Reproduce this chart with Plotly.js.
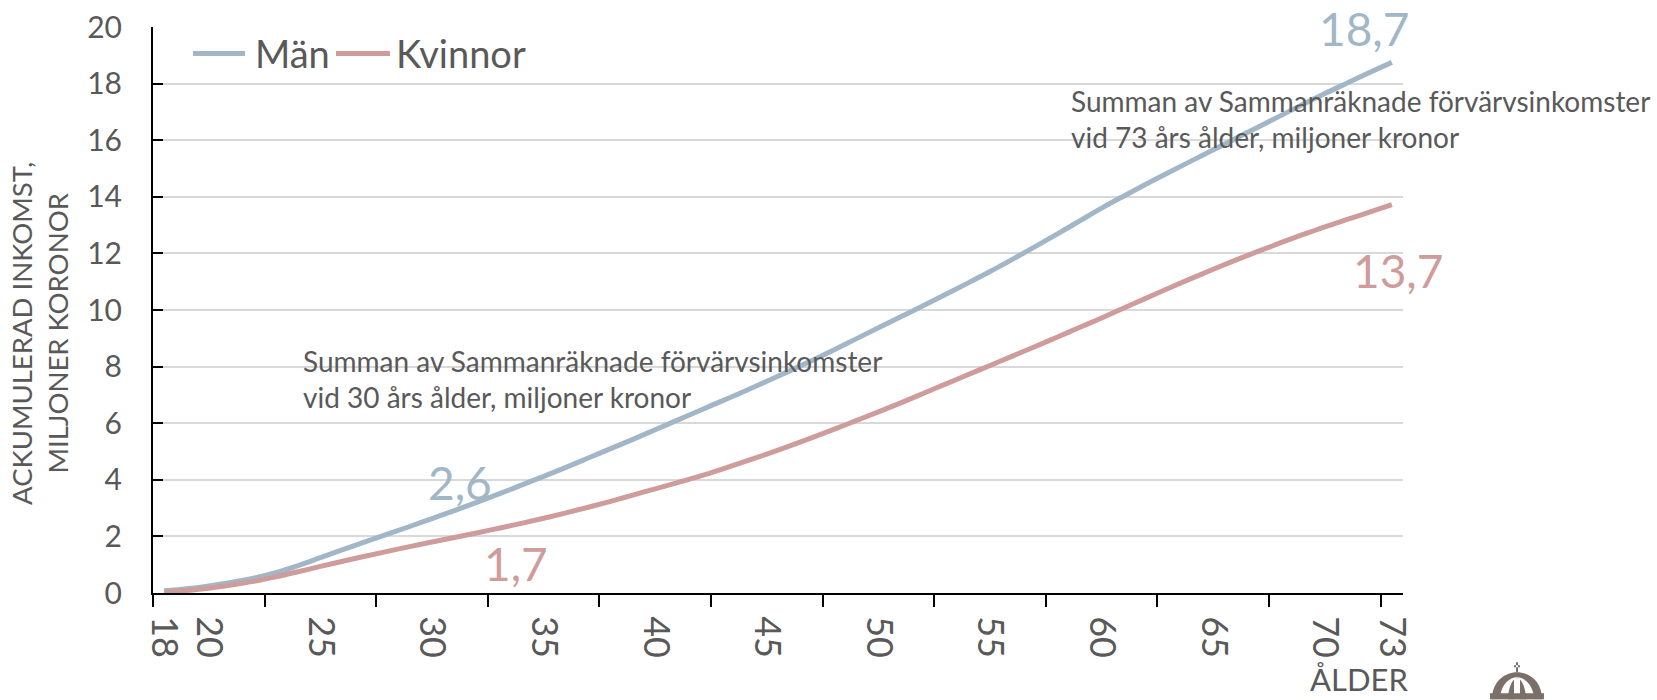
<!DOCTYPE html>
<html>
<head>
<meta charset="utf-8">
<script src="https://cdn.plot.ly/plotly-3.0.1.min.js"></script>
<style>html,body{margin:0;padding:0;background:#fff;}#chart{width:1657px;height:700px;}</style>
</head>
<body>
<div id="chart"></div>
<script>
// ---- data ----
const ages = [18,19,20,21,22,23,24,25,26,27,28,29,30,31,32,33,34,35,36,37,38,39,40,41,42,43,44,45,
  46,47,48,49,50,51,52,53,54,55,56,57,58,59,60,61,62,63,64,65,66,67,68,69,70,71,72,73];
const men = [0.08,0.15,0.25,0.37,0.52,0.72,0.97,1.25,1.53,1.81,2.08,2.35,2.63,2.91,3.2,3.5,3.81,4.12,4.44,4.77,
  5.1,5.43,5.77,6.11,6.45,6.79,7.13,7.48,7.84,8.21,8.59,8.98,9.37,9.76,10.15,10.55,10.95,11.36,11.79,12.23,
  12.68,13.14,13.6,14.03,14.45,14.86,15.26,15.66,16.06,16.46,16.86,17.26,17.65,18.02,18.39,18.75];
const women = [0.03,0.09,0.17,0.28,0.41,0.57,0.75,0.94,1.12,1.3,1.47,1.64,1.8,1.96,2.12,2.29,2.46,2.64,2.83,3.03,
  3.24,3.46,3.68,3.9,4.13,4.38,4.64,4.91,5.19,5.48,5.78,6.09,6.4,6.72,7.05,7.38,7.71,8.04,8.37,8.7,
  9.04,9.38,9.72,10.07,10.42,10.77,11.11,11.44,11.76,12.07,12.37,12.66,12.94,13.2,13.46,13.72];
const seriesNames = ["Män", "Kvinnor"];
const xTickVals = [18,20,25,30,35,40,45,50,55,60,65,70,73];
const xTickText = ["18","20","25","30","35","40","45","50","55","60","65","70","73"];
const xTickMarks = [17.5,22.5,27.5,32.5,37.5,42.5,47.5,52.5,57.5,62.5,67.5,72.5];
const yTickVals = [0,2,4,6,8,10,12,14,16,18,20];
const valueLabels = {men30: "2,6", women30: "1,7", men73: "18,7", women73: "13,7"};
const noteText30 = "Summan av Sammanräknade förvärvsinkomster<br>vid 30 års ålder, miljoner kronor";
const noteText73 = "Summan av Sammanräknade förvärvsinkomster<br>vid 73 års ålder, miljoner kronor";
const yTitle = "ACKUMULERAD INKOMST,<br>MILJONER KORONOR";
const xTitle = "ÅLDER";

// ---- style ----
const BLUE = "#a1b7c7", PINK = "#cf9c9c", GREY = "#595959";
const FONT = "Lato, 'Open Sans', sans-serif";
const L = 153, R = 1403, T = 26.5, B = 593.5, W = 1657, H = 700;
const px = x => (x - L) / (R - L);          // pixel -> paper x
const py = y => (B - y) / (B - T);          // pixel -> paper y

const traces = [
  {x: ages, y: men, name: seriesNames[0], type: "scatter", mode: "lines", showlegend: false,
   line: {color: BLUE, width: 5, shape: "spline", smoothing: 1}},
  {x: ages, y: women, name: seriesNames[1], type: "scatter", mode: "lines", showlegend: false,
   line: {color: PINK, width: 5, shape: "spline", smoothing: 1}}
];

const shapes = [];
// legend samples
shapes.push({type:"line", xref:"paper", yref:"paper", x0:px(193), x1:px(245), y0:py(53), y1:py(53), line:{color:BLUE, width:5}});
shapes.push({type:"line", xref:"paper", yref:"paper", x0:px(336), x1:px(390), y0:py(53), y1:py(53), line:{color:PINK, width:5}});

// simple emblem drawn with shapes (bottom right)
const ec = "#7b7068";
function P(d){ return d.replace(/(-?\d+\.?\d*),(-?\d+\.?\d*)/g, (m,a,b)=> px(+a).toFixed(5)+","+py(+b).toFixed(5)); }
shapes.push({type:"path", xref:"paper", yref:"paper", path:P("M1492,700 C1492,682 1505,673 1517,673 C1529,673 1542,682 1542,700 Z"), fillcolor:ec, line:{width:0}});
shapes.push({type:"path", xref:"paper", yref:"paper", path:P("M1500,700 C1500,688 1508,678 1517,678 C1526,678 1534,688 1534,700 Z"), fillcolor:"#ffffff", line:{width:0}});
shapes.push({type:"path", xref:"paper", yref:"paper", path:P("M1508,700 C1508,690 1512,679 1517,679 C1522,679 1526,690 1526,700 Z"), fillcolor:ec, line:{width:0}});
shapes.push({type:"path", xref:"paper", yref:"paper", path:P("M1514,700 L1514,679 L1520,679 L1520,700 Z"), fillcolor:"#ffffff", line:{width:0}});
shapes.push({type:"path", xref:"paper", yref:"paper", path:P("M1516,673 L1516,663 L1518,663 L1518,673 Z M1514,666 L1520,666 L1520,668 L1514,668 Z"), fillcolor:ec, line:{width:0}});
shapes.push({type:"path", xref:"paper", yref:"paper", path:P("M1490,694 L1544,694 L1544,700 L1490,700 Z"), fillcolor:ec, line:{width:0}});

const layout = {
  width: W, height: H,
  margin: {l: L, r: W - R, t: T, b: H - B, pad: 0},
  paper_bgcolor: "#ffffff", plot_bgcolor: "#ffffff",
  font: {family: FONT, color: GREY},
  showlegend: false,
  xaxis: {
    range: [17.5, 73.5], tickmode: "array", tickvals: xTickVals, ticktext: xTickText,
    tickangle: 90, ticks: "", showgrid: false, zeroline: false,
    showline: true, linecolor: "#000000", linewidth: 2,
    tickfont: {family: FONT, size: 36, color: GREY}, ticklabelstandoff: 14,
    minor: {tickmode: "array", tickvals: xTickMarks, ticks: "outside", ticklen: 12, tickwidth: 2,
            tickcolor: "#000000", showgrid: false}
  },
  yaxis: {
    range: [0, 20], tickmode: "array", tickvals: yTickVals,
    ticks: "inside", ticklen: 10, tickwidth: 2, tickcolor: "#000000",
    showgrid: true, gridcolor: "#d9d9d9", gridwidth: 2, zeroline: false,
    showline: true, linecolor: "#000000", linewidth: 2,
    tickfont: {family: FONT, size: 30, color: GREY}, ticklabelstandoff: 23
  },
  annotations: [
    {xref: "paper", yref: "paper", x: px(253), y: py(53), text: seriesNames[0], showarrow: false,
     xanchor: "left", yanchor: "middle", font: {family: FONT, size: 38, color: GREY}},
    {xref: "paper", yref: "paper", x: px(394), y: py(53), text: seriesNames[1], showarrow: false,
     xanchor: "left", yanchor: "middle", font: {family: FONT, size: 38, color: GREY}},
    {xref: "paper", yref: "paper", x: px(40), y: py(334), text: yTitle, textangle: -90,
     showarrow: false, xanchor: "center", yanchor: "middle", align: "center",
     font: {family: FONT, size: 27.5, color: GREY}},
    {xref: "paper", yref: "paper", x: px(1410), y: py(701), text: xTitle, showarrow: false,
     xanchor: "right", yanchor: "bottom", font: {family: FONT, size: 31, color: GREY}},
    {xref: "x", yref: "y", x: 24.13, y: 7.57, text: noteText30, showarrow: false,
     xanchor: "left", yanchor: "middle", align: "left", font: {family: FONT, size: 28, color: GREY}},
    {xref: "x", yref: "y", x: 58.54, y: 16.74, text: noteText73, showarrow: false,
     xanchor: "left", yanchor: "middle", align: "left", font: {family: FONT, size: 28, color: GREY}},
    {xref: "x", yref: "y", x: 31.25, y: 3.9, text: valueLabels.men30, showarrow: false,
     xanchor: "center", yanchor: "middle", font: {family: FONT, size: 46, color: BLUE}},
    {xref: "x", yref: "y", x: 33.76, y: 1.04, text: valueLabels.women30, showarrow: false,
     xanchor: "center", yanchor: "middle", font: {family: FONT, size: 46, color: PINK}},
    {xref: "x", yref: "y", x: 71.76, y: 19.95, text: valueLabels.men73, showarrow: false,
     xanchor: "center", yanchor: "middle", font: {family: FONT, size: 46, color: BLUE}},
    {xref: "x", yref: "y", x: 73.28, y: 11.41, text: valueLabels.women73, showarrow: false,
     xanchor: "center", yanchor: "middle", font: {family: FONT, size: 46, color: PINK}}
  ],
  shapes: shapes
};

Plotly.newPlot("chart", traces, layout, {displayModeBar: false, staticPlot: true});
</script>
</body>
</html>
